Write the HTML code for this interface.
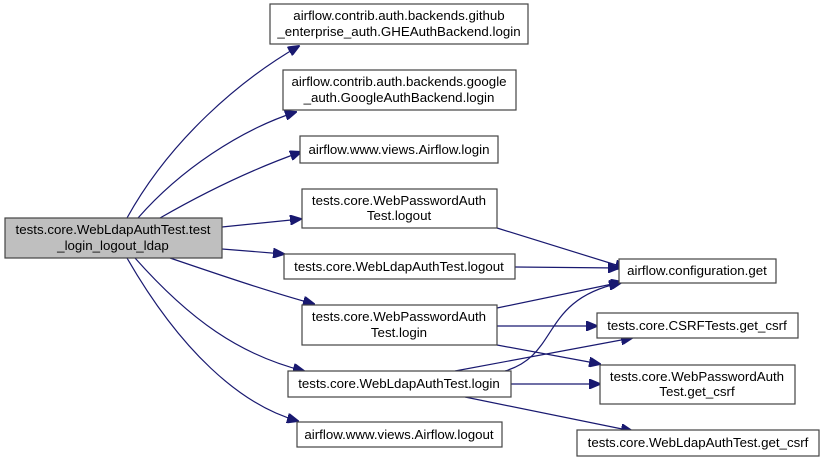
<!DOCTYPE html>
<html><head><meta charset="utf-8"><style>
html,body{margin:0;padding:0;background:#fff;}
svg{display:block;}
text{font-family:"Liberation Sans",Arial,sans-serif;font-size:13.3px;fill:#000;text-anchor:middle;}
rect{fill:#fff;stroke:#444;stroke-width:1.2;}
path{fill:none;stroke:#191970;stroke-width:1.2;}
</style></head><body>
<svg width="824" height="462" viewBox="0 0 824 462">
<defs><marker id="a" markerWidth="12" markerHeight="10" refX="11" refY="5" orient="auto" markerUnits="userSpaceOnUse"><path d="M0,0 L12,5 L0,10 Z" style="fill:#191970;stroke:#191970"/></marker></defs>
<g marker-end="url(#a)">
<path d="M127,218 C170,140 240,80 299,46"/>
<path d="M138,218 C180,170 240,130 296,112"/>
<path d="M160,218 C200,195 250,170 301,152"/>
<path d="M222,227 L301,219"/>
<path d="M222,249 L284,254"/>
<path d="M170,258 C220,275 270,292 314,304"/>
<path d="M135,258 C190,320 240,355 304,371"/>
<path d="M127,258 C180,350 240,405 298,421"/>
<path d="M497,228 L626,268"/>
<path d="M515,267 L619,268"/>
<path d="M497,308 L622,282"/>
<path d="M497,326 L597,326"/>
<path d="M497,345 L600,364"/>
<path d="M455,371 L632,338"/>
<path d="M505,371 C560,355 540,300 620,283"/>
<path d="M511,384 L600,384"/>
<path d="M465,397 L632,431"/>
</g>
<rect x="5" y="218" width="217" height="40" style="fill:#bfbfbf"/>
<text x="113" y="234">tests.core.WebLdapAuthTest.test</text>
<text x="113" y="250">_login_logout_ldap</text>
<rect x="270" y="4" width="258" height="40"/>
<text x="399" y="20">airflow.contrib.auth.backends.github</text>
<text x="399" y="36">_enterprise_auth.GHEAuthBackend.login</text>
<rect x="283" y="70" width="233" height="40"/>
<text x="399" y="86">airflow.contrib.auth.backends.google</text>
<text x="399" y="102">_auth.GoogleAuthBackend.login</text>
<rect x="300" y="136" width="198" height="27"/>
<text x="399" y="154">airflow.www.views.Airflow.login</text>
<rect x="302" y="189" width="195" height="39"/>
<text x="399" y="205">tests.core.WebPasswordAuth</text>
<text x="399" y="220">Test.logout</text>
<rect x="284" y="254" width="231" height="25"/>
<text x="399" y="271">tests.core.WebLdapAuthTest.logout</text>
<rect x="302" y="305" width="195" height="40"/>
<text x="399" y="321">tests.core.WebPasswordAuth</text>
<text x="399" y="337">Test.login</text>
<rect x="288" y="371" width="223" height="26"/>
<text x="399" y="388">tests.core.WebLdapAuthTest.login</text>
<rect x="297" y="422" width="205" height="25"/>
<text x="399" y="439">airflow.www.views.Airflow.logout</text>
<rect x="619" y="259" width="157" height="24"/>
<text x="697" y="275">airflow.configuration.get</text>
<rect x="597" y="313" width="201" height="25"/>
<text x="697" y="330">tests.core.CSRFTests.get_csrf</text>
<rect x="600" y="365" width="195" height="39"/>
<text x="697" y="381">tests.core.WebPasswordAuth</text>
<text x="697" y="396">Test.get_csrf</text>
<rect x="577" y="430" width="242" height="26"/>
<text x="698" y="447">tests.core.WebLdapAuthTest.get_csrf</text>
</svg>
</body></html>
